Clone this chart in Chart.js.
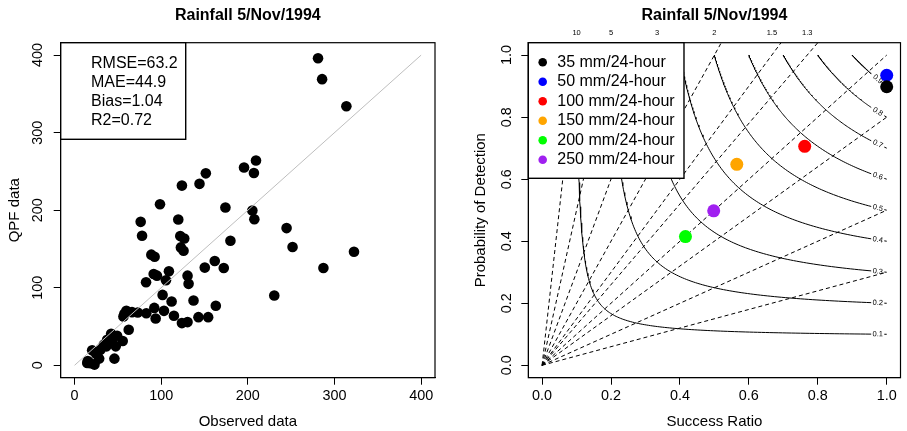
<!DOCTYPE html>
<html><head><meta charset="utf-8">
<script src="https://cdn.jsdelivr.net/npm/chart.js@4.4.1/dist/chart.umd.min.js"></script>
<style>
html,body{margin:0;padding:0;background:#fff;overflow:hidden}
#wrap{position:relative;width:907px;height:431px;background:#fff}
canvas{position:absolute;top:0}
</style></head><body>
<div id="wrap">
<canvas id="c1" width="470" height="431" style="left:0"></canvas>
<canvas id="c2" width="437" height="431" style="left:470px"></canvas>
</div>
<script>
// ---------- Left panel data ----------
const chartTitle = 'Rainfall 5/Nov/1994';
const observed = [281,285.7,313.7,209.4,195.6,151.5,207,144.2,123.9,98.6,174.1,205.2,207.5,119.7,76.3,77.9,122,126.6,179.9,244.7,251.6,122.7,125.8,322.5,88.6,92.4,161.8,150.3,172.2,287.2,108.9,91.3,95.1,130.4,82.5,105.5,131.6,101.6,230.5,112,137.3,163,72.9,82.8,92,103.2,93.6,114.7,143,154.2,123.9,130.4,57.5,59.8,66.3,56.4,62.5,42.2,49.1,55.6,37.6,43.7,33.7,47.5,29.9,26.1,20.3,46,28.4,15.3,18.4,23,14.6,24.9,36.8];
const qpf = [396,369,334,264,255,247.5,248,234,231.7,207.7,203.4,199.6,188.4,188,185,167,166.6,163.6,160.6,176.9,152.5,152,147.7,146.5,142.7,140,134.5,126,125.5,125.5,121.2,117.8,115.6,115.6,107,109.6,105,90.8,90,82.2,83.5,76.7,68,67.2,74,70.2,60.4,63.8,62.1,62.1,54.4,55.7,66.4,70.2,68.5,63,45.8,40.7,38.1,31.3,33,28.7,26.6,24.4,20.1,15.8,19.3,8.6,8.6,5.6,2.6,0.9,3,15,24.4];
const scatterTicks = [0,100,200,300,400];
const identityLine = [0,400];
const statLines = ['RMSE=63.2','MAE=44.9','Bias=1.04','R2=0.72'];

// ---------- Right panel data ----------
const thresholds = ['35 mm/24-hour','50 mm/24-hour','100 mm/24-hour','150 mm/24-hour','200 mm/24-hour','250 mm/24-hour'];
const successRatio = [1.0, 1.0, 0.762, 0.565, 0.416, 0.498];
const pod = [0.898, 0.935, 0.706, 0.648, 0.415, 0.498];
const seriesColors = ['#000000','#0000FF','#FF0000','#FFA500','#00FF00','#A020F0'];
const biasLevels = [0.3,0.5,0.8,1,1.3,1.5,2,3,5,10];
const csiLevels = [0.1,0.2,0.3,0.4,0.5,0.6,0.7,0.8,0.9];
const unitTicks = [0,0.2,0.4,0.6,0.8,1.0];

const FONT = "'Liberation Sans', Arial, Helvetica, sans-serif";
Chart.defaults.font.family = FONT;
Chart.defaults.color = '#000';

function axis(o){
  return Object.assign({
    type:'linear',
    grid:{drawOnChartArea:false, drawTicks:true, tickLength:7, color:'#000', lineWidth:1},
    border:{display:true, color:'#000', width:1},
  }, o);
}
const frame = {
  id:'frame',
  afterDatasetsDraw(chart){
    const {ctx, chartArea:a} = chart;
    ctx.save(); ctx.strokeStyle='#000'; ctx.lineWidth=1.2;
    ctx.strokeRect(a.left, a.top, a.right-a.left, a.bottom-a.top);
    ctx.restore();
  }
};

// ---------- Left chart ----------
const statsBox = {
  id:'statsBox',
  afterDraw(chart){
    const {ctx, chartArea:a} = chart;
    ctx.save();
    ctx.font = '16px ' + FONT;
    const tx = a.left + 30.3;
    const maxW = Math.max(...statLines.map(t => ctx.measureText(t).width));
    const w = (tx - a.left) + maxW + 8, h = 96.6;
    ctx.fillStyle = '#fff'; ctx.fillRect(a.left, a.top, w, h);
    ctx.strokeStyle = '#000'; ctx.lineWidth = 1.4; ctx.strokeRect(a.left, a.top, w, h);
    ctx.fillStyle = '#000'; ctx.textBaseline = 'middle'; ctx.textAlign = 'left';
    statLines.forEach((t,i) => ctx.fillText(t, tx, a.top + 20.6 + i*19.1));
    ctx.restore();
  }
};

new Chart(document.getElementById('c1'), {
  type:'scatter',
  data:{datasets:[
    {data: identityLine.map(v => ({x:v, y:v})), showLine:true, borderColor:'#BEBEBE', borderWidth:1, pointRadius:0, order:0},
    {data: observed.map((v,i) => ({x:v, y:qpf[i]})), backgroundColor:'#000', borderWidth:0, pointRadius:5.3, order:1}
  ]},
  options:{
    responsive:false, animation:false, events:[],
    layout:{padding:{left:6, right:35, top:0, bottom:0}},
    plugins:{
      legend:{display:false}, tooltip:{enabled:false},
      title:{display:true, text:chartTitle, fullSize:false, color:'#000', font:{size:16, weight:'bold'}, padding:{top:5.7, bottom:17.8}}
    },
    scales:{
      x: axis({min:-16, max:416,
        afterBuildTicks: s => { s.ticks = scatterTicks.map(v => ({value:v})); },
        afterFit: s => { s.height = 53.3; },
        ticks:{font:{size:14.4}, padding:2.7, minRotation:0, maxRotation:0, autoSkip:false, color:'#000'},
        title:{display:true, text:'Observed data', color:'#000', font:{size:15}, padding:{top:0, bottom:0.5}}
      }),
      y: axis({min:-16, max:416,
        afterBuildTicks: s => { s.ticks = scatterTicks.map(v => ({value:v})); },
        afterFit: s => { s.width = 54.7; },
        ticks:{font:{size:14.4}, padding:3.7, minRotation:90, maxRotation:90, crossAlign:'center', autoSkip:false, color:'#000'},
        title:{display:true, text:'QPF data', color:'#000', font:{size:15}, padding:{top:0, bottom:0}}
      })
    }
  },
  plugins:[frame, statsBox]
});

// ---------- Right chart ----------
function podOnCsi(c, sr){ return 1 / (1/c - 1/sr + 1); }
const GAP_START = 0.955, LABEL_SR = 0.974, GAP_END = 0.993;
function csiCurve(c){
  const pts = [];
  const n = 160;
  for (let i = 0; i <= n; i++){
    const t = i/n;
    const sr = c + (GAP_START - c) * t*t*t;
    pts.push({x:sr, y:podOnCsi(c, sr)});
  }
  pts.push({x:(GAP_START+GAP_END)/2, y:null});
  pts.push({x:GAP_END, y:podOnCsi(c, GAP_END)});
  pts.push({x:1, y:podOnCsi(c, 1)});
  return pts;
}

const datasets = [];
thresholds.forEach((name,i) => {
  datasets.push({label:name, data:[{x:successRatio[i], y:pod[i]}], backgroundColor:seriesColors[i], borderWidth:0, pointRadius:6.5, order:0});
});
csiLevels.forEach(c => {
  datasets.push({label:'CSI '+c, data:csiCurve(c), showLine:true, spanGaps:false, borderColor:'#000', borderWidth:1, pointRadius:0, order:1});
});
biasLevels.forEach(b => {
  datasets.push({label:'Bias '+b, data:[{x:0,y:0},{x:1,y:b}], showLine:true, borderColor:'#000', borderWidth:1, borderDash:[4,3], pointRadius:0, order:2});
});

const perfDecor = {
  id:'perfDecor',
  beforeDatasetDraw(chart, args){
    if (args.index !== thresholds.length - 1) return;
    const {ctx} = chart; const xs = chart.scales.x, ys = chart.scales.y;
    ctx.save();
    ctx.font = '7.5px ' + FONT; ctx.fillStyle = '#000';
    ctx.textAlign = 'center'; ctx.textBaseline = 'middle';
    csiLevels.forEach(c => {
      const x0 = xs.getPixelForValue(GAP_START), y0 = ys.getPixelForValue(podOnCsi(c, GAP_START));
      const x1 = xs.getPixelForValue(GAP_END), y1 = ys.getPixelForValue(podOnCsi(c, GAP_END));
      const xl = xs.getPixelForValue(LABEL_SR), yl = ys.getPixelForValue(podOnCsi(c, LABEL_SR));
      ctx.save(); ctx.translate(xl, yl); ctx.rotate(Math.atan2(y1-y0, x1-x0));
      ctx.fillText(String(c), 0, 0); ctx.restore();
    });
    ctx.restore();
  },
  afterDraw(chart){
    const {ctx, chartArea:a} = chart; const xs = chart.scales.x;
    ctx.save();
    // bias labels above the plot
    ctx.font = '7.5px ' + FONT; ctx.fillStyle = '#000';
    ctx.textAlign = 'center'; ctx.textBaseline = 'middle';
    biasLevels.filter(b => b > 1).forEach(b => ctx.fillText(String(b), xs.getPixelForValue(1/b), a.top - 10));
    // legend
    ctx.font = '16px ' + FONT;
    const tx = a.left + 29;
    const maxW = Math.max(...thresholds.map(t => ctx.measureText(t).width));
    const w = (tx - a.left) + maxW + 9.3, h = 135.6;
    ctx.fillStyle = '#fff'; ctx.fillRect(a.left, a.top, w, h);
    ctx.strokeStyle = '#000'; ctx.lineWidth = 1.4; ctx.strokeRect(a.left, a.top, w, h);
    ctx.textAlign = 'left';
    thresholds.forEach((t,i) => {
      const yy = a.top + 19.6 + i*19.5;
      ctx.fillStyle = seriesColors[i];
      ctx.beginPath(); ctx.arc(a.left + 14.4, yy, 4.3, 0, Math.PI*2); ctx.fill();
      ctx.fillStyle = '#000'; ctx.fillText(t, tx, yy);
    });
    ctx.restore();
  }
};

new Chart(document.getElementById('c2'), {
  type:'scatter',
  data:{datasets},
  options:{
    responsive:false, animation:false, events:[],
    layout:{padding:{left:2, right:3.7, top:0, bottom:0}},
    plugins:{
      legend:{display:false}, tooltip:{enabled:false},
      title:{display:true, text:chartTitle, fullSize:false, color:'#000', font:{size:16, weight:'bold'}, padding:{top:5.7, bottom:17.8}}
    },
    scales:{
      x: axis({min:-0.04, max:1.04,
        afterBuildTicks: s => { s.ticks = unitTicks.map(v => ({value:v})); },
        afterFit: s => { s.height = 53.3; },
        ticks:{font:{size:14.4}, padding:2.7, minRotation:0, maxRotation:0, autoSkip:false, color:'#000', callback: v => Number(v).toFixed(1)},
        title:{display:true, text:'Success Ratio', color:'#000', font:{size:15}, padding:{top:0, bottom:0.5}}
      }),
      y: axis({min:-0.04, max:1.04,
        afterBuildTicks: s => { s.ticks = unitTicks.map(v => ({value:v})); },
        afterFit: s => { s.width = 56.3; },
        ticks:{font:{size:14.4}, padding:4.6, minRotation:90, maxRotation:90, crossAlign:'center', autoSkip:false, color:'#000', callback: v => Number(v).toFixed(1)},
        title:{display:true, text:'Probability of Detection', color:'#000', font:{size:15}, padding:{top:0, bottom:0}}
      })
    }
  },
  plugins:[frame, perfDecor]
});
</script>
</body></html>
